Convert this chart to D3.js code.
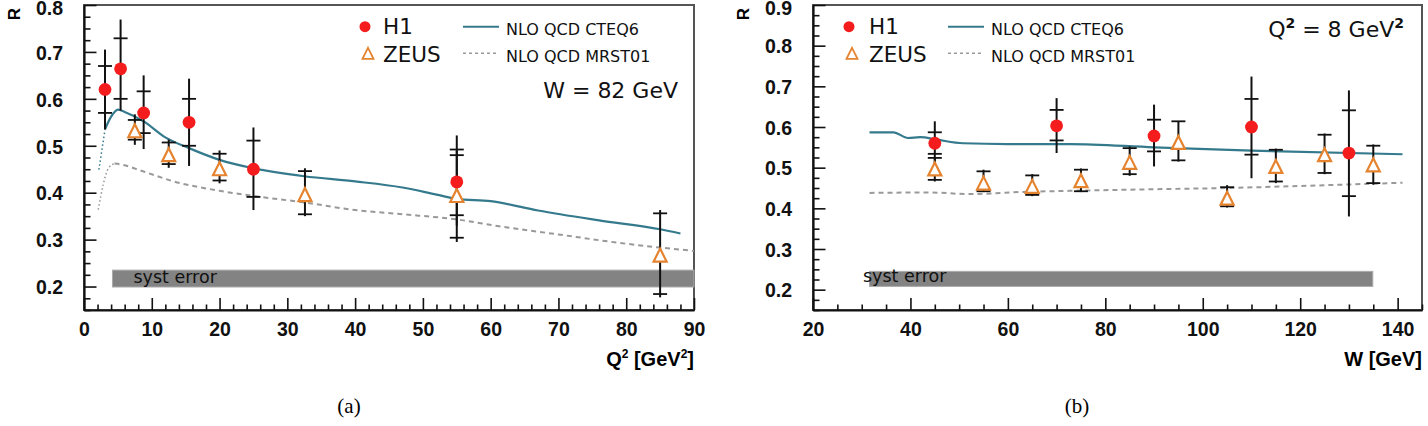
<!DOCTYPE html>
<meta charset="utf-8">
<head>
<script src="https://cdn.jsdelivr.net/npm/d3@7"></script>
<style>
  body { margin: 0; background: #fff; }
  .ax .tick text { font-family: "Liberation Sans", Arial, sans-serif; font-weight: bold; font-size: 19.5px; fill: #111; }
  .ax .tick line, .mi .tick line { stroke: #111; stroke-width: 1.6; }
  .ax .domain { stroke: #111; stroke-width: 2.2; }
  .leg { font-family: "DejaVu Sans", sans-serif; fill: #111; }
</style>
</head>
<body>
<svg id="fig" width="1428" height="426"></svg>
<script>
// ---- panel (a): R vs Q2, W = 82 GeV ----
var h1A_q2    = [3.1, 5.4, 8.8, 15.5, 25, 55];
var h1A_r     = [0.620, 0.664, 0.570, 0.550, 0.450, 0.423];
var h1A_capHi = [0.670, 0.729, 0.616, 0.600, 0.511, 0.492];
var h1A_capLo = [0.570, 0.600, 0.527, 0.500, 0.391, 0.352];
var h1A_errHi = [0.705, 0.769, 0.650, 0.643, 0.539, 0.522];
var h1A_errLo = [0.535, 0.575, 0.493, 0.457, 0.363, 0.330];

var zeusA_q2    = [7.5, 12.5, 20, 32.6, 55, 85];
var zeusA_r     = [0.532, 0.481, 0.451, 0.396, 0.394, 0.267];
var zeusA_capHi = [0.555, 0.507, 0.483, 0.446, 0.480, 0.356];
var zeusA_capLo = [0.513, 0.461, 0.426, 0.354, 0.304, 0.184];
var zeusA_errHi = [0.567, 0.513, 0.490, 0.452, 0.490, 0.363];
var zeusA_errLo = [0.502, 0.453, 0.420, 0.350, 0.295, 0.177];

var cteqA_ext_q2 = [2.2, 3.1];
var cteqA_ext_r  = [0.449, 0.535];
var cteqA_q2 = [3.1, 4.0, 5.0, 6.0, 8.8, 12, 15.5, 20, 25, 32.5, 40, 47, 52, 55, 60, 67, 76, 85, 88];
var cteqA_r  = [0.535, 0.562, 0.577, 0.572, 0.552, 0.518, 0.495, 0.470, 0.452, 0.435, 0.424, 0.411, 0.396, 0.387, 0.382, 0.362, 0.341, 0.322, 0.313];

var mrstA_ext_q2 = [2.1, 3.6, 4.5];
var mrstA_ext_r  = [0.364, 0.452, 0.462];
var mrstA_q2 = [4.5, 5.5, 8.8, 13, 20, 25, 32.6, 40, 47, 55, 61, 70, 79, 85, 90];
var mrstA_r  = [0.462, 0.460, 0.445, 0.425, 0.404, 0.393, 0.379, 0.363, 0.354, 0.343, 0.329, 0.311, 0.293, 0.283, 0.276];

var systA_x = [4.2, 90];
var systA_r = [0.199, 0.235];

var ticksA_x = [0, 10, 20, 30, 40, 50, 60, 70, 80, 90];
var ticksA_y = [0.2, 0.3, 0.4, 0.5, 0.6, 0.7, 0.8];

// ---- panel (b): R vs W, Q2 = 8 GeV2 ----
var h1B_w     = [45, 70, 90, 110, 130];
var h1B_r     = [0.560, 0.603, 0.578, 0.600, 0.536];
var h1B_capHi = [0.587, 0.642, 0.618, 0.669, 0.641];
var h1B_capLo = [0.534, 0.567, 0.540, 0.532, 0.430];
var h1B_errHi = [0.614, 0.671, 0.655, 0.724, 0.690];
var h1B_errLo = [0.503, 0.536, 0.503, 0.474, 0.380];

var zeusB_w     = [45, 55, 65, 75, 85, 95, 105, 115, 125, 135];
var zeusB_r     = [0.497, 0.462, 0.454, 0.468, 0.513, 0.562, 0.425, 0.503, 0.532, 0.507];
var zeusB_capHi = [0.524, 0.491, 0.481, 0.495, 0.548, 0.614, 0.452, 0.544, 0.581, 0.554];
var zeusB_capLo = [0.470, 0.442, 0.433, 0.442, 0.484, 0.518, 0.405, 0.466, 0.487, 0.462];
var zeusB_errHi = [0.524, 0.495, 0.484, 0.498, 0.552, 0.614, 0.457, 0.547, 0.584, 0.557];
var zeusB_errLo = [0.466, 0.440, 0.430, 0.440, 0.480, 0.515, 0.402, 0.462, 0.484, 0.458];

var cteqB_w = [31.6, 36.5, 39.5, 42, 45.4, 50.8, 60, 72.7, 90, 110, 141];
var cteqB_r = [0.587, 0.587, 0.573, 0.575, 0.569, 0.560, 0.558, 0.558, 0.550, 0.542, 0.533];

var mrstB_w = [31.6, 44, 52, 64.5, 72.7, 90, 105, 120, 141];
var mrstB_r = [0.438, 0.439, 0.435, 0.441, 0.443, 0.447, 0.450, 0.455, 0.463];

var systB_x = [31.6, 134.9];
var systB_r = [0.208, 0.245];

var ticksB_x = [20, 40, 60, 80, 100, 120, 140];
var ticksB_y = [0.2, 0.3, 0.4, 0.5, 0.6, 0.7, 0.8, 0.9];

var RED = "#f41c1c", ORANGE = "#e5832f", TEAL = "#347a8c", GREY = "#999";

var svg = d3.select("#fig");

function pts(xs, ys) { return xs.map(function(v, i) { return [v, ys[i]]; }); }

function triPath(s) {
  var h = s / 2;
  return "M0," + (-h) + "L" + (h) + "," + h + "L" + (-h) + "," + h + "Z";
}

function drawPanel(p) {
  var g = svg.append("g");
  var x = d3.scaleLinear().domain(p.xDomain).range([p.left, p.right]);
  var y = d3.scaleLinear().domain(p.yDomain).range([p.bottom, p.top]);

  g.append("rect")
    .attr("x", p.left).attr("y", p.top)
    .attr("width", p.right - p.left).attr("height", p.bottom - p.top)
    .attr("fill", "none").attr("stroke", "#555").attr("stroke-width", 2);

  // syst error band
  g.append("rect")
    .attr("x", x(p.systX[0])).attr("width", x(p.systX[1]) - x(p.systX[0]))
    .attr("y", y(p.systR[1])).attr("height", y(p.systR[0]) - y(p.systR[1]))
    .attr("fill", "#838383").attr("stroke", "#aaa").attr("stroke-width", 1);
  g.append("text").attr("class", "leg")
    .attr("x", x(p.systX[0]) + p.systDx).attr("y", y(p.systR[0]) - 4)
    .attr("font-size", 17.5).text("syst error");

  var line = d3.line().x(function(d) { return x(d[0]); }).y(function(d) { return y(d[1]); })
    .curve(d3.curveMonotoneX);

  if (p.cteqExt) g.append("path").attr("d", line(p.cteqExt)).attr("fill", "none")
    .attr("stroke", TEAL).attr("stroke-width", 1.5).attr("stroke-dasharray", "1.5,2.5");
  if (p.mrstExt) g.append("path").attr("d", line(p.mrstExt)).attr("fill", "none")
    .attr("stroke", GREY).attr("stroke-width", 1.5).attr("stroke-dasharray", "1.5,2.5");
  g.append("path").attr("d", line(p.mrst)).attr("fill", "none")
    .attr("stroke", GREY).attr("stroke-width", 2).attr("stroke-dasharray", "5,4");
  g.append("path").attr("d", line(p.cteq)).attr("fill", "none")
    .attr("stroke", TEAL).attr("stroke-width", 2.2);

  function bars(set) {
    var idx = d3.range(set.x.length);
    g.selectAll(null).data(idx).join("line")
      .attr("x1", function(i) { return x(set.x[i]); }).attr("x2", function(i) { return x(set.x[i]); })
      .attr("y1", function(i) { return y(set.errLo[i]); }).attr("y2", function(i) { return y(set.errHi[i]); })
      .attr("stroke", "#111").attr("stroke-width", 2);
    [set.capLo, set.capHi].forEach(function(c) {
      g.selectAll(null).data(idx).join("line")
        .attr("x1", function(i) { return x(set.x[i]) - 7; }).attr("x2", function(i) { return x(set.x[i]) + 7; })
        .attr("y1", function(i) { return y(c[i]); }).attr("y2", function(i) { return y(c[i]); })
        .attr("stroke", "#111").attr("stroke-width", 1.8);
    });
  }
  bars(p.zeus);
  bars(p.h1);

  g.selectAll(null).data(d3.range(p.zeus.x.length)).join("path")
    .attr("transform", function(i) { return "translate(" + x(p.zeus.x[i]) + "," + y(p.zeus.r[i]) + ")"; })
    .attr("d", triPath(13)).attr("fill", "#fff").attr("stroke", ORANGE).attr("stroke-width", 2.2);
  g.selectAll(null).data(d3.range(p.h1.x.length)).join("circle")
    .attr("cx", function(i) { return x(p.h1.x[i]); }).attr("cy", function(i) { return y(p.h1.r[i]); })
    .attr("r", 6.4).attr("fill", RED);

  // axes: minor ticks (every 0.025 in R) then major
  var yMinor = d3.range(0, 40).map(function(k) { return +(p.yDomain[0] + k * 0.025).toFixed(3); })
    .filter(function(v) { return v <= p.yDomain[1] + 1e-9 && Math.abs(v * 10 - Math.round(v * 10)) > 1e-6; });
  var xMinor = d3.range(p.xDomain[0], p.xDomain[1] + 1e-9, p.xMinorStep)
    .filter(function(v) { return p.xTicks.indexOf(v) < 0; });

  g.append("g").attr("class", "mi").attr("transform", "translate(" + p.left + ",0)")
    .call(d3.axisLeft(y).tickValues(yMinor).tickSize(-6.5).tickFormat(""))
    .call(function(s) { s.select(".domain").remove(); });
  g.append("g").attr("class", "mi").attr("transform", "translate(0," + p.bottom + ")")
    .call(d3.axisBottom(x).tickValues(xMinor).tickSize(-5.5).tickFormat(""))
    .call(function(s) { s.select(".domain").remove(); });

  var top = p.yTicks[p.yTicks.length - 1];
  g.append("g").attr("class", "ax").attr("transform", "translate(" + p.left + ",0)")
    .call(d3.axisLeft(y).tickValues(p.yTicks).tickSize(-12.5).tickSizeOuter(0).tickPadding(21).tickFormat(d3.format(".1f")))
    .call(function(s) {
      s.selectAll(".tick text").attr("y", 1)
        .filter(function(d) { return d === top; }).attr("y", 3.5);
    });
  g.append("g").attr("class", "ax").attr("transform", "translate(0," + p.bottom + ")")
    .call(d3.axisBottom(x).tickValues(p.xTicks).tickSize(-12).tickSizeOuter(0).tickPadding(12).tickFormat(d3.format("d")));

  // axis titles
  g.append("text").attr("transform", "translate(" + (p.left - 70) + ",14) rotate(-90)")
    .attr("text-anchor", "middle").attr("dy", "0.35em")
    .attr("font-family", "Liberation Sans, Arial, sans-serif").attr("font-weight", "bold").attr("font-size", 17)
    .text("R");
  var xt = g.append("text").attr("x", p.right).attr("y", 366).attr("text-anchor", "end")
    .attr("font-family", "Liberation Sans, Arial, sans-serif").attr("font-weight", "bold").attr("font-size", 20);
  p.xTitle(xt);

  // caption
  g.append("text").attr("x", p.capX).attr("y", 413).attr("text-anchor", "middle")
    .attr("font-family", "Liberation Serif, serif").attr("font-size", 21).text(p.caption);

  // legend
  var L = p.leg;
  g.append("circle").attr("cx", L.mx).attr("cy", 26.7).attr("r", 5.5).attr("fill", RED);
  g.append("path").attr("transform", "translate(" + (L.mx + 3) + ",53.3)").attr("d", triPath(11))
    .attr("fill", "#fff").attr("stroke", ORANGE).attr("stroke-width", 1.8);
  g.append("text").attr("class", "leg").attr("x", L.tx).attr("y", 34).attr("font-size", 21.5).text("H1");
  g.append("text").attr("class", "leg").attr("x", L.tx).attr("y", 61.5).attr("font-size", 21.5).text("ZEUS");
  g.append("line").attr("x1", L.lx).attr("x2", L.lx + 36).attr("y1", 26.7).attr("y2", 26.7)
    .attr("stroke", TEAL).attr("stroke-width", 2);
  g.append("line").attr("x1", L.lx).attr("x2", L.lx + 36).attr("y1", 53.3).attr("y2", 53.3)
    .attr("stroke", GREY).attr("stroke-width", 1.5).attr("stroke-dasharray", "3,3");
  g.append("text").attr("class", "leg").attr("x", L.lx + 43).attr("y", 35).attr("font-size", 16).text("NLO QCD CTEQ6");
  g.append("text").attr("class", "leg").attr("x", L.lx + 43).attr("y", 61.5).attr("font-size", 16).text("NLO QCD MRST01");
  var kin = g.append("text").attr("class", "leg").attr("x", p.kin.x).attr("y", p.kin.y)
    .attr("text-anchor", "end").attr("font-size", 22);
  p.kin.draw(kin);
}

drawPanel({
  left: 84, right: 694, top: 5, bottom: 310,
  xDomain: [0, 90], yDomain: [0.15, 0.8], xTicks: ticksA_x, yTicks: ticksA_y, xMinorStep: 2,
  h1: { x: h1A_q2, r: h1A_r, capHi: h1A_capHi, capLo: h1A_capLo, errHi: h1A_errHi, errLo: h1A_errLo },
  zeus: { x: zeusA_q2, r: zeusA_r, capHi: zeusA_capHi, capLo: zeusA_capLo, errHi: zeusA_errHi, errLo: zeusA_errLo },
  cteq: pts(cteqA_q2, cteqA_r), cteqExt: pts(cteqA_ext_q2, cteqA_ext_r),
  mrst: pts(mrstA_q2, mrstA_r), mrstExt: pts(mrstA_ext_q2, mrstA_ext_r),
  systX: systA_x, systR: systA_r, systDx: 21,
  xTitle: function(t) {
    t.append("tspan").text("Q");
    t.append("tspan").attr("dy", -8).attr("font-size", 12).text("2");
    t.append("tspan").attr("dy", 8).text(" [GeV");
    t.append("tspan").attr("dy", -8).attr("font-size", 12).text("2");
    t.append("tspan").attr("dy", 8).text("]");
  },
  caption: "(a)", capX: 349,
  leg: { mx: 365, tx: 383, lx: 463 },
  kin: { x: 678, y: 98, draw: function(t) { t.text("W = 82 GeV"); } }
});

drawPanel({
  left: 813, right: 1422, top: 5, bottom: 310,
  xDomain: [20, 145], yDomain: [0.15, 0.9], xTicks: ticksB_x, yTicks: ticksB_y, xMinorStep: 5,
  h1: { x: h1B_w, r: h1B_r, capHi: h1B_capHi, capLo: h1B_capLo, errHi: h1B_errHi, errLo: h1B_errLo },
  zeus: { x: zeusB_w, r: zeusB_r, capHi: zeusB_capHi, capLo: zeusB_capLo, errHi: zeusB_errHi, errLo: zeusB_errLo },
  cteq: pts(cteqB_w, cteqB_r), mrst: pts(mrstB_w, mrstB_r),
  systX: systB_x, systR: systB_r, systDx: -6.5,
  xTitle: function(t) { t.text("W [GeV]"); },
  caption: "(b)", capX: 1077,
  leg: { mx: 849, tx: 869, lx: 948 },
  kin: { x: 1404, y: 37, draw: function(t) {
    t.append("tspan").text("Q");
    t.append("tspan").attr("dy", -9).attr("font-size", 14).attr("font-weight", "bold").text("2");
    t.append("tspan").attr("dy", 9).text(" = 8 GeV");
    t.append("tspan").attr("dy", -9).attr("font-size", 14).attr("font-weight", "bold").text("2");
  } }
});
</script>
</body>
